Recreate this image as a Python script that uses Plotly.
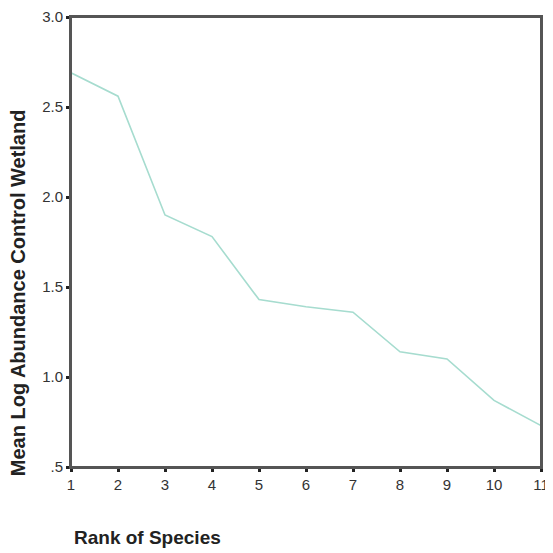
import plotly.graph_objects as go

rank = [1, 2, 3, 4, 5, 6, 7, 8, 9, 10, 11]
mean_log_abundance = [2.69, 2.56, 1.90, 1.78, 1.43, 1.39, 1.36, 1.14, 1.10, 0.87, 0.73]
y_tick_vals = [0.5, 1.0, 1.5, 2.0, 2.5, 3.0]
y_tick_text = [".5", "1.0", "1.5", "2.0", "2.5", "3.0"]

fig = go.Figure()
fig.add_trace(go.Scatter(x=rank, y=mean_log_abundance, mode="lines",
                         line=dict(color="#a6dccf", width=1.6)))

axis_common = dict(showline=True, linecolor="#555555", linewidth=2, mirror=True,
                   showgrid=False, zeroline=False, ticks="outside", ticklen=3,
                   tickwidth=3, tickcolor="#222222", automargin=False,
                   ticklabeloverflow="allow",
                   tickfont=dict(family="Liberation Sans, Arial", size=15, color="#333333"))

# page body has an 8px default margin, so margins are reduced by 8 on top/left
fig.update_layout(
    width=553, height=553,
    margin=dict(l=63, r=20, t=9, b=94),
    paper_bgcolor="white", plot_bgcolor="white",
    showlegend=False,
    xaxis=dict(range=[1, 11], tickvals=rank, **axis_common),
    yaxis=dict(range=[0.5, 3.0], tickvals=y_tick_vals, ticktext=y_tick_text, **axis_common),
    shapes=[dict(type="rect", xref="paper", yref="paper", x0=0, x1=1, y0=0, y1=1,
                 line=dict(color="#555555", width=2), layer="above")],
    annotations=[
        dict(text="<b>Rank of Species</b>", xref="paper", yref="paper",
             x=0.002, y=-0.156, xanchor="left", yanchor="middle", showarrow=False,
             font=dict(family="Liberation Sans, Arial", size=19, color="#222222")),
        dict(text="<b>Mean Log Abundance Control Wetland</b>", xref="paper", yref="paper",
             x=-0.111, y=0.388, xanchor="center", yanchor="middle", textangle=-90,
             showarrow=False,
             font=dict(family="Liberation Sans, Arial", size=20, color="#222222")),
    ],
)
fig.write_html("out.html")
